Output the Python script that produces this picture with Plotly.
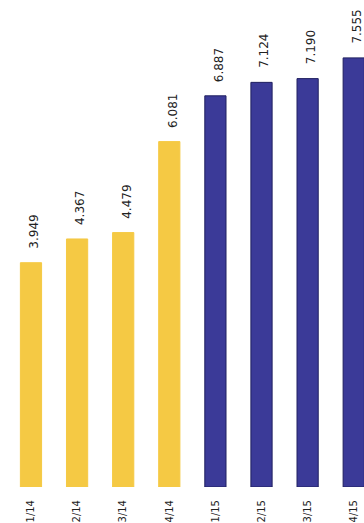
import plotly.graph_objects as go

categories = ["1/14", "2/14", "3/14", "4/14", "1/15", "2/15", "3/15", "4/15"]
values = [3.949, 4.367, 4.479, 6.081, 6.887, 7.124, 7.190, 7.555]
labels = ["3.949", "4.367", "4.479", "6.081", "6.887", "7.124", "7.190", "7.555"]
colors = ["#f5c944"] * 4 + ["#3b3a98"] * 4
line_colors = ["#f5c944"] * 4 + ["#202060"] * 4

xs = list(range(len(categories)))

fig = go.Figure(go.Bar(
    x=xs,
    y=values,
    marker=dict(color=colors, line=dict(color=line_colors, width=1)),
    width=0.46,
))

for xi, v, t in zip(xs, values, labels):
    fig.add_annotation(
        x=xi, y=v, text=t, showarrow=False,
        textangle=-90, yanchor="bottom", xanchor="center",
        yshift=12, xshift=3,
        font=dict(family="DejaVu Sans", size=12, color="#222222"),
    )

fig.update_layout(
    width=364, height=523,
    margin=dict(l=0, r=0, t=0, b=36),
    paper_bgcolor="white", plot_bgcolor="white",
    showlegend=False,
    xaxis=dict(
        range=[-0.672, 7.223],
        tickmode="array",
        tickvals=xs,
        ticktext=categories,
        tickangle=-90,
        ticklabelstandoff=10,
        tickfont=dict(family="DejaVu Sans", size=10, color="#222222"),
        showgrid=False, zeroline=False, showline=False, ticks="",
    ),
    yaxis=dict(range=[0, 8.574], visible=False),
)

fig.write_html("out.html")
